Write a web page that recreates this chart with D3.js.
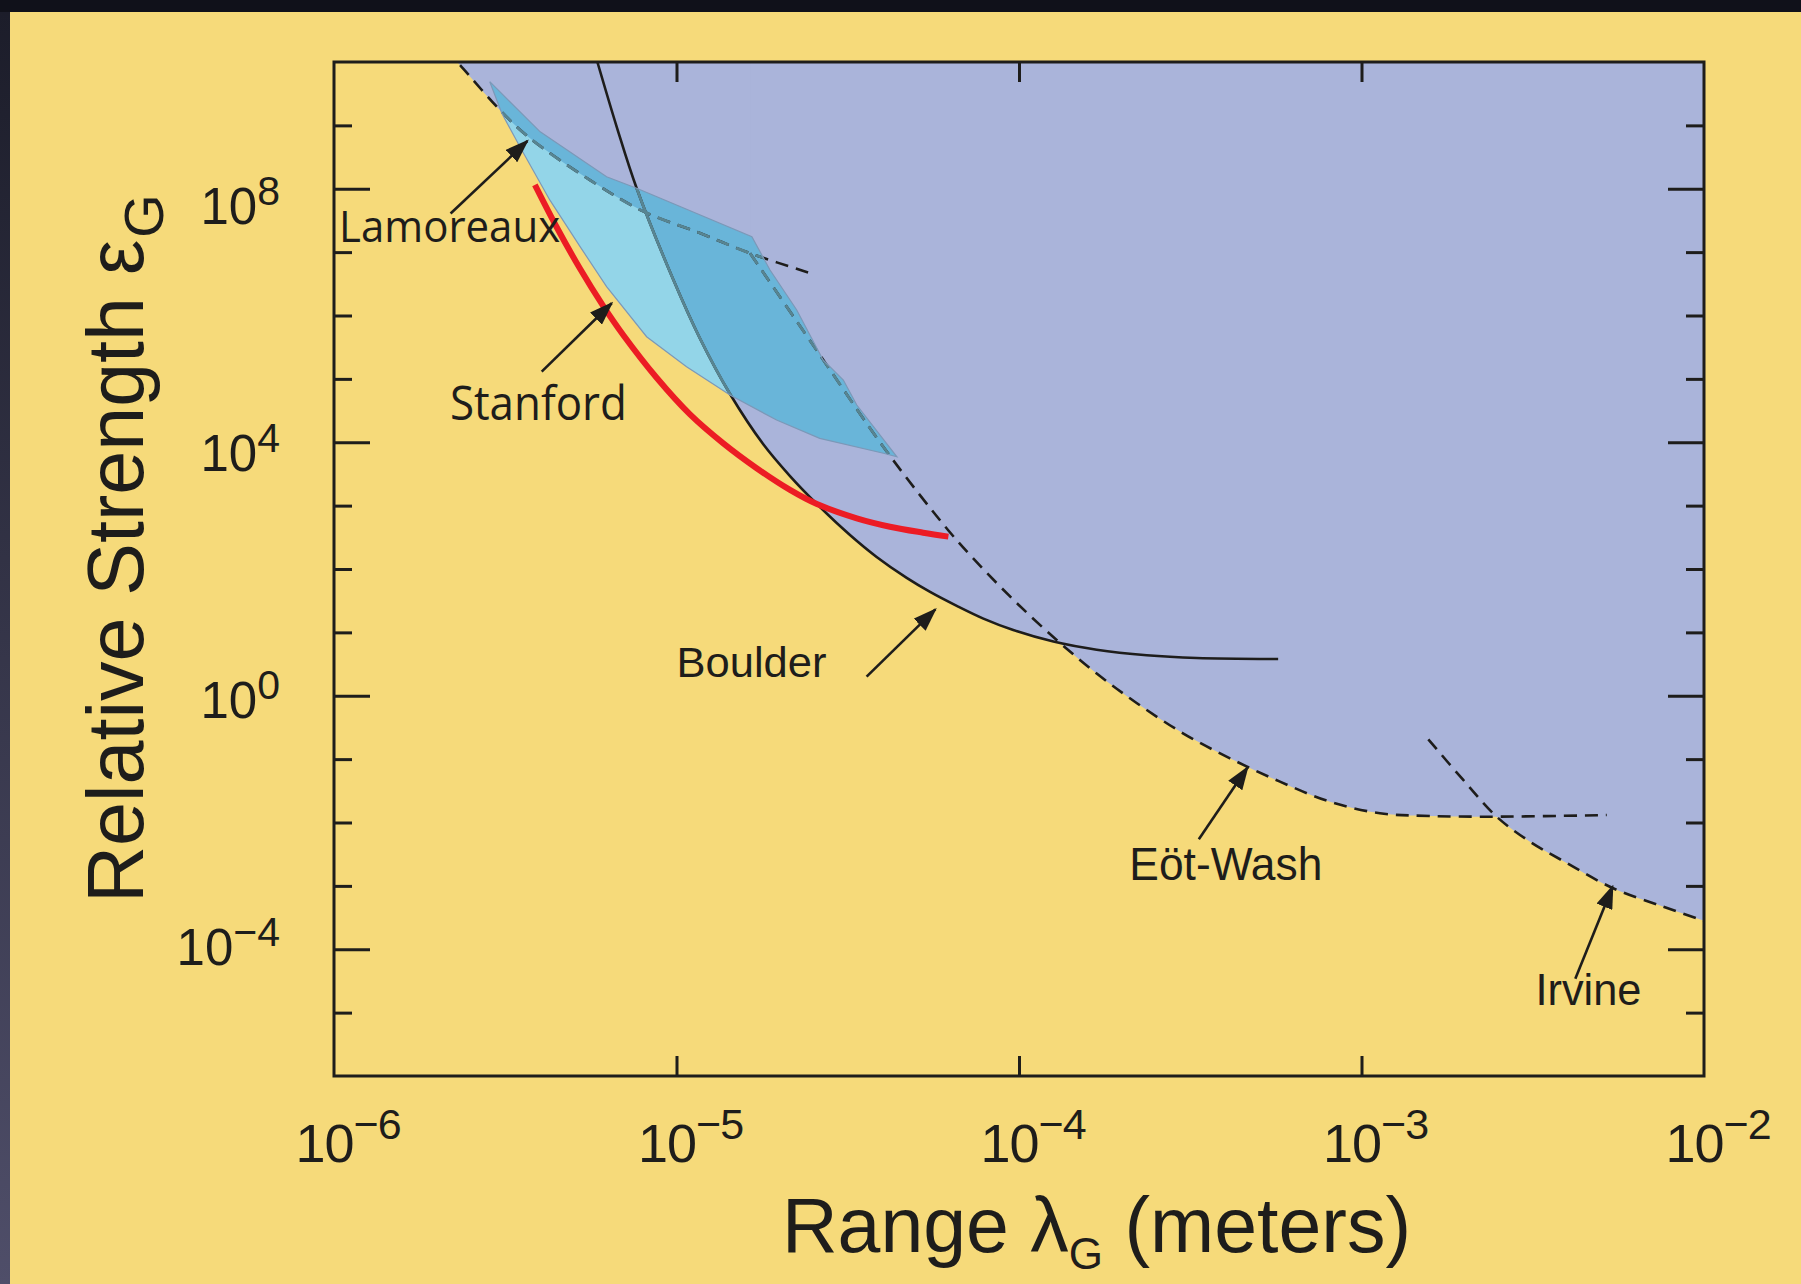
<!DOCTYPE html>
<html>
<head>
<meta charset="utf-8">
<script src="https://cdn.jsdelivr.net/npm/d3@7"></script>
<style>
  html, body { margin: 0; padding: 0; background: #11121b; }
  svg { display: block; }
</style>
</head>
<body>
<svg id="chart" width="1801" height="1284"></svg>
<script>
// ---- data: range lambda (m), relative strength epsilon ----
const xTickExponents = [-6, -5, -4, -3, -2];
const yMajorExponents = [-4, 0, 4, 8];
const yMinorExponents = [-5, -3, -2, -1, 1, 2, 3, 5, 6, 7, 9];

const lamoreauxDashed = [
  [2.12e-6, 1.55e10], [2.31e-6, 9.5e9], [3.05e-6, 1.75e9], [3.69e-6, 6.6e8],
  [5.59e-6, 1.37e8], [8.0e-6, 4.4e7], [1.17e-5, 2.0e7], [1.64e-5, 9.6e6], [2.54e-5, 4.4e6]
];

const boulderLine = [
  [5.74e-6, 1.55e10], [5.91e-6, 8.97e9], [6.69e-6, 9.5e8], [7.65e-6, 1.02e8],
  [9.79e-6, 3.66e6], [1.171e-5, 4.34e5], [1.433e-5, 5.77e4], [1.79e-5, 9.38e3],
  [2.145e-5, 2.93e3], [2.57e-5, 1.06e3], [3.21e-5, 344], [3.84e-5, 155],
  [4.70e-5, 72.4], [5.50e-5, 43.5], [6.58e-5, 26.2], [7.87e-5, 16.5],
  [9.62e-5, 10.9], [1.26e-4, 7.15], [1.686e-4, 5.31], [2.36e-4, 4.35],
  [3.30e-4, 3.94], [5.71e-4, 3.80]
];

const eotWashDashed = [
  [1.64e-5, 9.6e6], [2.57e-5, 2.79e5], [4.11e-5, 7.14e3], [6.24e-5, 398],
  [7.35e-5, 147], [9.62e-5, 32.9], [1.288e-4, 7.59], [1.686e-4, 2.24],
  [2.21e-4, 0.762], [3.02e-4, 0.2535], [4.13e-4, 0.103], [5.78e-4, 0.0441],
  [8.09e-4, 0.0213], [1.132e-3, 0.0140], [1.585e-3, 0.01268], [2.48e-3, 0.01236],
  [5.20e-3, 0.01312]
];

const irvineDashed = [
  [1.567e-3, 0.2056], [1.982e-3, 0.0469], [2.48e-3, 0.01236], [3.105e-3, 4.98e-3],
  [3.88e-3, 2.47e-3], [5.43e-3, 9.16e-4], [7.61e-3, 4.69e-4], [9.85e-3, 2.89e-4],
  [1.055e-2, 2.55e-4]
];

const stanfordLine = [
  [3.86e-6, 1.15e8], [4.47e-6, 2.47e7], [5.23e-6, 5.46e6], [6.10e-6, 1.43e6],
  [6.99e-6, 4.92e5], [8.75e-6, 1.04e5], [1.095e-5, 2.75e4], [1.37e-5, 9.6e3],
  [1.71e-5, 3.93e3], [2.145e-5, 1.77e3], [2.57e-5, 1.06e3], [3.36e-5, 631],
  [4.20e-5, 465], [5.25e-5, 374], [6.22e-5, 324]
];

// shaded Lamoreaux band (outline, clockwise)
const lamoreauxBand = [
  [2.85e-6, 4.89e9], [4.0e-6, 7.9e8], [6.25e-6, 1.55e8], [7.65e-6, 1.02e8],
  [1.66e-5, 1.75e7], [1.875e-5, 5.22e6], [2.244e-5, 1.22e6], [2.68e-5, 1.99e5],
  [3.07e-5, 9.6e4], [3.36e-5, 3.87e4], [4.40e-5, 5.9e3], [4.02e-5, 6.7e3],
  [2.62e-5, 1.15e4], [1.96e-5, 2.24e4], [1.433e-5, 5.57e4], [1.07e-5, 1.56e5],
  [8.18e-6, 4.63e5], [6.25e-6, 2.85e6], [5.23e-6, 1.22e7], [4.27e-6, 6.6e7],
  [3.49e-6, 4.6e8], [3.09e-6, 1.55e9]
];

const labelNames = ["Lamoreaux", "Stanford", "Boulder", "Eöt-Wash", "Irvine"];
const labelAt = [[1.035e-6, 1.42e7], [2.18e-6, 2.24e4], [1.0e-5, 2.0], [2.10e-4, 1.24e-3], [3.22e-3, 1.32e-5]];
const arrowFrom = [[2.19e-6, 4.07e7], [4.04e-6, 1.30e5], [3.59e-5, 2.0], [3.35e-4, 5.46e-3], [4.21e-3, 3.42e-5]];
const arrowTo = [[3.67e-6, 5.67e8], [6.47e-6, 1.56e6], [5.70e-5, 23.1], [4.65e-4, 0.0743], [5.41e-3, 9.8e-4]];

// ---- layout ----
const W = 1801, H = 1284;
const plot = { left: 334, right: 1704, top: 62, bottom: 1076 };
const ink = "#1e1d1b";
const helv = "'Liberation Sans', Arial, Helvetica, sans-serif";
const humanist = "'Open Sans', 'Noto Sans', sans-serif";

const svg = d3.select("#chart");

const x = d3.scaleLog().domain([1e-6, 1e-2]).range([plot.left, plot.right]);
const y = d3.scaleLog().domain([1e-6, 1e10]).range([plot.bottom, plot.top]);

const line = d3.line().x(d => x(d[0])).y(d => y(d[1])).curve(d3.curveCatmullRom.alpha(0.5));
const poly = d3.line().x(d => x(d[0])).y(d => y(d[1]));

// area above a curve, closed through the top of the plot
function abovePath(pts) {
  const first = pts[0], last = pts[pts.length - 1];
  return line(pts) + `L${x(last[0]) + 40},${y(last[1])}L${x(last[0]) + 40},${plot.top - 40}L${x(first[0])},${plot.top - 40}Z`;
}

const defs = svg.append("defs");
defs.append("clipPath").attr("id", "plotClip")
  .append("rect")
  .attr("x", plot.left).attr("y", plot.top)
  .attr("width", plot.right - plot.left).attr("height", plot.bottom - plot.top);

const excluders = [lamoreauxDashed, boulderLine, eotWashDashed, irvineDashed];
const exclClip = defs.append("clipPath").attr("id", "exclClip");
excluders.forEach(s => exclClip.append("path").attr("d", abovePath(s)));

defs.append("clipPath").attr("id", "bandClip")
  .append("path").attr("d", poly(lamoreauxBand) + "Z");

defs.append("marker")
  .attr("id", "head")
  .attr("viewBox", "0 0 24 17")
  .attr("refX", 22).attr("refY", 8.5)
  .attr("markerWidth", 24).attr("markerHeight", 17)
  .attr("markerUnits", "userSpaceOnUse")
  .attr("orient", "auto")
  .append("path").attr("d", "M0,0L24,8.5L0,17Z").attr("fill", ink);

// background
svg.append("rect").attr("width", W).attr("height", H).attr("fill", "#10111a");
const sideGrad = defs.append("linearGradient").attr("id", "side").attr("x1", 0).attr("y1", 0).attr("x2", 0).attr("y2", 1);
sideGrad.append("stop").attr("offset", 0).attr("stop-color", "#1c1d2a");
sideGrad.append("stop").attr("offset", 1).attr("stop-color", "#4f4e69");
svg.append("rect").attr("x", 0).attr("y", 12).attr("width", 10).attr("height", H - 12).attr("fill", "url(#side)");
svg.append("rect").attr("x", 10).attr("y", 12).attr("width", W - 10).attr("height", H - 12).attr("fill", "#f6da7a");

const g = svg.append("g").attr("clip-path", "url(#plotClip)");

// excluded region (union of the areas above every limit curve)
excluders.forEach(s => g.append("path").attr("d", abovePath(s)).attr("fill", "#aab4da"));

// Lamoreaux band: light over allowed region, darker where it overlaps excluded region
g.append("path").attr("d", poly(lamoreauxBand) + "Z").attr("fill", "#93d5e8");
g.append("g").attr("clip-path", "url(#exclClip)")
  .append("path").attr("d", poly(lamoreauxBand) + "Z").attr("fill", "#69b5d9");

// limit curves
const curves = [
  { d: lamoreauxDashed, dash: "13,8" },
  { d: eotWashDashed, dash: "13,8" },
  { d: irvineDashed, dash: "13,8" },
  { d: boulderLine, dash: null }
];
curves.forEach(c => {
  g.append("path").attr("d", line(c.d))
    .attr("fill", "none").attr("stroke", ink).attr("stroke-width", 2.6)
    .attr("stroke-dasharray", c.dash);
});
const inBand = g.append("g").attr("clip-path", "url(#bandClip)");
curves.forEach(c => {
  inBand.append("path").attr("d", line(c.d))
    .attr("fill", "none").attr("stroke", "#588592").attr("stroke-width", 2.8)
    .attr("stroke-dasharray", c.dash);
});
g.append("path").attr("d", poly(lamoreauxBand) + "Z")
  .attr("fill", "none").attr("stroke", "#7c98b8").attr("stroke-width", 1.2);

g.append("path").attr("d", line(stanfordLine))
  .attr("fill", "none").attr("stroke", "#ec1c24").attr("stroke-width", 6);

// frame and ticks
svg.append("rect")
  .attr("x", plot.left).attr("y", plot.top)
  .attr("width", plot.right - plot.left).attr("height", plot.bottom - plot.top)
  .attr("fill", "none").attr("stroke", ink).attr("stroke-width", 3);

const innerX = xTickExponents.slice(1, -1).map(e => Math.pow(10, e));
const yMajor = yMajorExponents.map(e => Math.pow(10, e));
const yMinor = yMinorExponents.map(e => Math.pow(10, e));

function styleAxis(sel) {
  sel.select(".domain").remove();
  sel.selectAll(".tick line").attr("stroke", ink).attr("stroke-width", 3);
  sel.selectAll(".tick text").remove();
}
svg.append("g").attr("transform", `translate(0,${plot.bottom})`)
  .call(d3.axisBottom(x).tickValues(innerX).tickSize(-20)).call(styleAxis);
svg.append("g").attr("transform", `translate(0,${plot.top})`)
  .call(d3.axisTop(x).tickValues(innerX).tickSize(-20)).call(styleAxis);
[[yMajor, 36], [yMinor, 18]].forEach(([vals, len]) => {
  svg.append("g").attr("transform", `translate(${plot.left},0)`)
    .call(d3.axisLeft(y).tickValues(vals).tickSize(-len)).call(styleAxis);
  svg.append("g").attr("transform", `translate(${plot.right},0)`)
    .call(d3.axisRight(y).tickValues(vals).tickSize(-len)).call(styleAxis);
});

// tick labels 10^n
const minus = e => (e < 0 ? "\u2212" + Math.abs(e) : String(e));
xTickExponents.forEach(e => {
  const t = svg.append("text")
    .attr("x", x(Math.pow(10, e)) + 14).attr("y", 1162)
    .attr("text-anchor", "middle").attr("letter-spacing", -1)
    .attr("font-family", helv).attr("font-size", 54).attr("fill", ink);
  t.append("tspan").text("10");
  t.append("tspan").attr("dy", -23).attr("font-size", 43).text(minus(e));
});
yMajorExponents.forEach(e => {
  const t = svg.append("text")
    .attr("x", 280).attr("y", y(Math.pow(10, e)) + 22.5 + 1.65 * e)
    .attr("text-anchor", "end")
    .attr("font-family", helv).attr("font-size", 51).attr("fill", ink);
  t.append("tspan").text("10");
  t.append("tspan").attr("dy", -19).attr("font-size", 41).text(minus(e));
});

// axis titles
const yt = svg.append("text")
  .attr("transform", "translate(143,903) rotate(-90)")
  .attr("font-family", helv).attr("font-size", 79).attr("fill", ink);
yt.append("tspan").text("Relative Strength \u03b5");
yt.append("tspan").attr("dy", 20).attr("dx", 2).attr("font-size", 56).text("G");

const xt = svg.append("text")
  .attr("x", 782).attr("y", 1252)
  .attr("font-family", helv).attr("font-size", 77).attr("fill", ink);
xt.append("tspan").text("Range \u03bb");
xt.append("tspan").attr("dy", 17).attr("font-size", 44).text("G");
xt.append("tspan").attr("dy", -17).text(" (meters)");

// annotations
const labelStyle = {
  "Lamoreaux": { family: humanist, size: 43, len: 221 },
  "Stanford": { family: humanist, size: 48, len: 177 },
  "Boulder": { family: helv, size: 43, len: 150 },
  "Eöt-Wash": { family: helv, size: 46, len: 193 },
  "Irvine": { family: helv, size: 44, len: 106 }
};
labelNames.forEach((name, i) => {
  const s = labelStyle[name];
  svg.append("text")
    .attr("x", x(labelAt[i][0])).attr("y", y(labelAt[i][1]))
    .attr("font-family", s.family).attr("font-size", s.size)
    .attr("textLength", s.len).attr("lengthAdjust", "spacingAndGlyphs")
    .attr("fill", ink).text(name);
  svg.append("line")
    .attr("x1", x(arrowFrom[i][0])).attr("y1", y(arrowFrom[i][1]))
    .attr("x2", x(arrowTo[i][0])).attr("y2", y(arrowTo[i][1]))
    .attr("stroke", ink).attr("stroke-width", 2.6)
    .attr("marker-end", "url(#head)");
});
</script>
</body>
</html>
